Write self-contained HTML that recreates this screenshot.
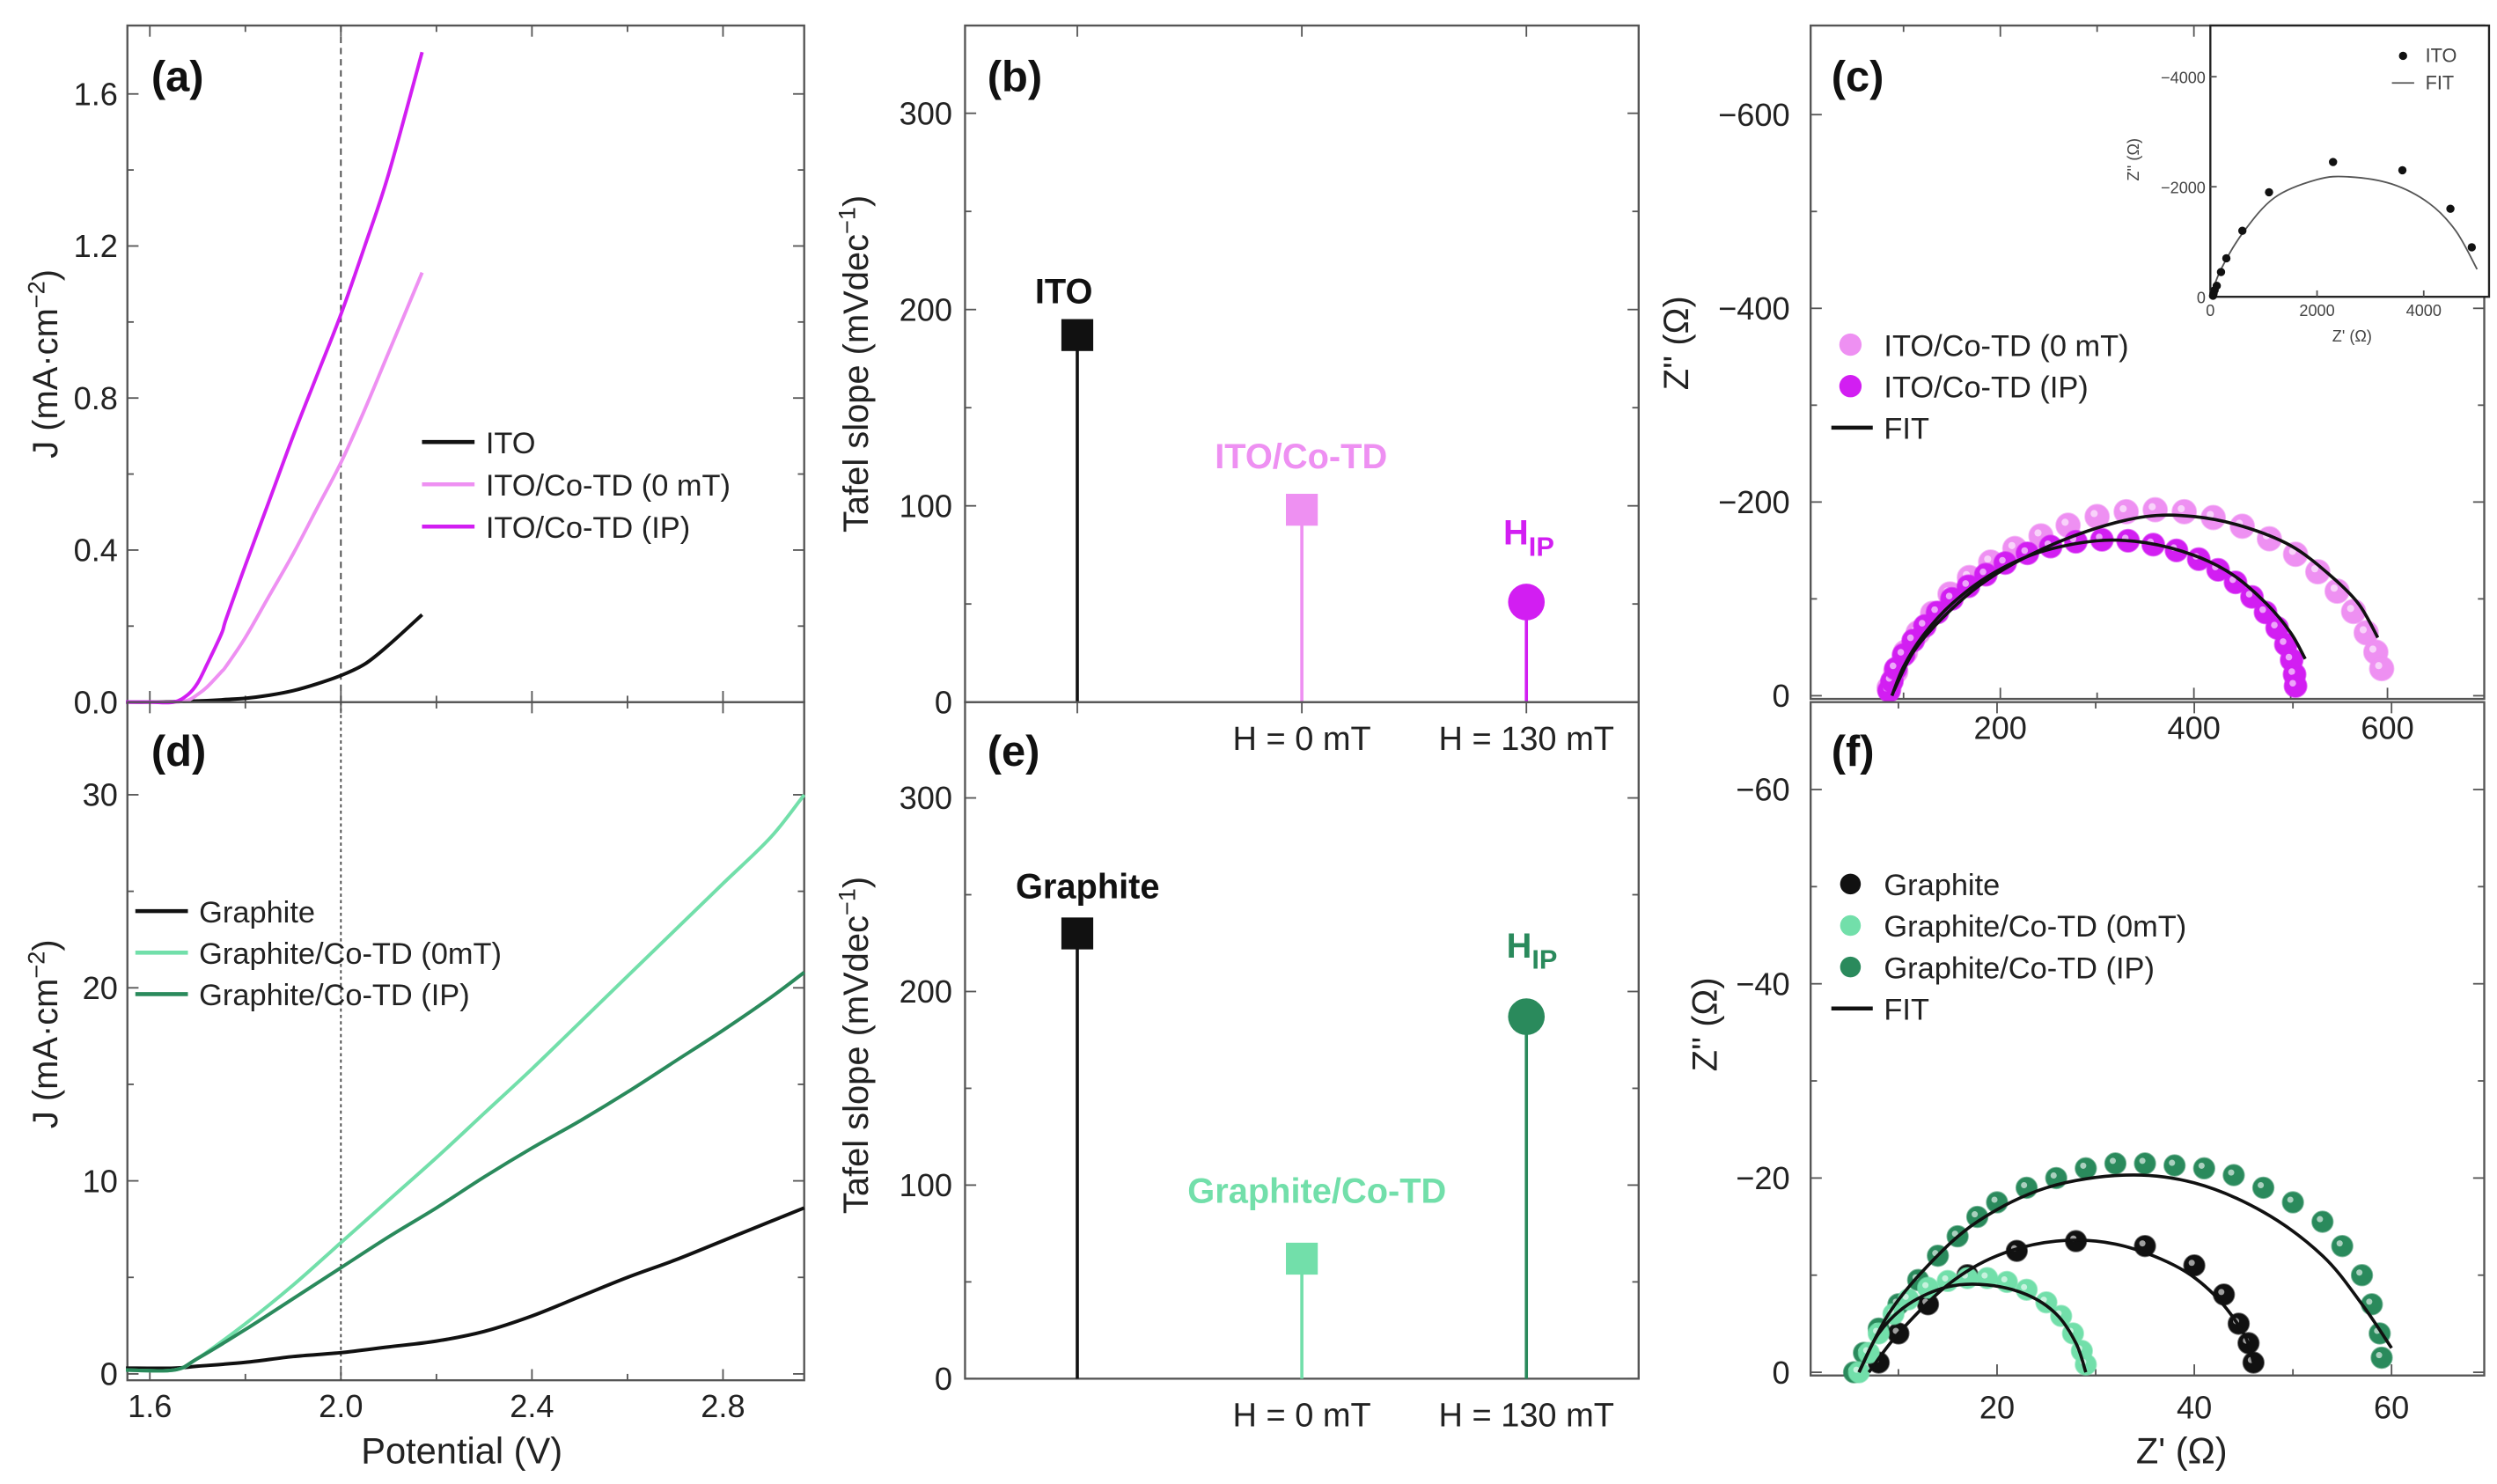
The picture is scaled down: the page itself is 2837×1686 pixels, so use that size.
<!DOCTYPE html>
<html><head><meta charset="utf-8"><style>
html,body{margin:0;padding:0;background:#fff;}
svg{display:block;font-family:"Liberation Sans",Arial,sans-serif;}
</style></head><body>
<svg id="fig" width="2837" height="1686" viewBox="0 0 1568 930" preserveAspectRatio="none" xmlns="http://www.w3.org/2000/svg"></svg>
<script>
// ---------- data ----------
const aV = [1.55,1.60,1.65,1.68,1.70,1.72,1.75,1.76,1.80,1.85,1.90,1.95,2.00,2.05,2.10,2.17];
const aITO = [0,0,0.001,0.002,0.003,0.004,0.006,0.007,0.010,0.018,0.030,0.048,0.070,0.100,0.150,0.230];
const aCo0 = [0,0,0,0.005,0.020,0.040,0.080,0.095,0.170,0.280,0.390,0.510,0.630,0.770,0.920,1.130];
const aCoIP = [0,0,0,0.020,0.050,0.100,0.180,0.220,0.360,0.530,0.700,0.860,1.020,1.200,1.390,1.710];
const dV = [1.55,1.65,1.70,1.80,1.90,2.00,2.10,2.20,2.30,2.40,2.50,2.60,2.70,2.80,2.90,2.97];
const dG = [0.3,0.3,0.4,0.6,0.9,1.1,1.4,1.7,2.2,3.0,4.0,5.0,5.9,6.9,7.9,8.6];
const dCo0 = [0.2,0.2,0.8,2.6,4.6,6.8,9.0,11.2,13.5,15.8,18.2,20.6,23.0,25.4,27.8,30.0];
const dCoIP = [0.2,0.2,0.8,2.3,3.9,5.5,7.1,8.6,10.2,11.7,13.1,14.6,16.2,17.8,19.5,20.8];
const bVals = [187,98,51];
const eVals = [230,62,187];
const cIPx = [85,88,92,100,110,122,135,150,167,185,205,228,252,278,305,332,358,382,405,425,443,460,474,486,495,501,504,505];
const cIPy = [5,15,28,42,57,72,86,100,113,125,137,147,154,159,161,160,156,150,141,130,117,102,86,70,53,37,22,10];
const c0x = [85,92,102,115,130,148,168,190,215,242,270,300,330,360,390,420,450,478,505,528,548,565,578,588,594];
const c0y = [8,25,45,65,85,105,122,138,152,165,176,185,190,192,190,184,175,162,146,128,108,87,65,45,28];
const cFitIPx = [88,100,120,150,190,240,300,350,400,440,475,500,515];
const cFitIPy = [0,30,62,95,125,148,160,158,145,125,95,65,38];
const cFit0x = [90,110,140,180,230,290,350,400,450,500,540,570,590];
const cFit0y = [5,45,80,115,145,170,185,185,175,155,125,95,60];
const inX = [50,60,80,120,200,300,600,1100,2300,3600,4500,4900];
const inY = [20,60,120,200,450,700,1200,1900,2450,2300,1600,900];
const inFitX = [0,200,600,1200,2000,2600,3400,4100,4600,5000];
const inFitY = [0,500,1150,1800,2130,2180,2050,1700,1200,500];
const fGx = [8,10,13,17,22,28,35,40,43,44.5,45.5,46];
const fGy = [1,4,7,10,12.5,13.5,13,11,8,5,3,1];
const f0x = [6,7,8,9.5,11,13,15,17,19,21,23,25,26.5,27.7,28.6,29];
const f0y = [0,2,4,6,7.5,8.7,9.4,9.7,9.7,9.3,8.5,7.2,5.8,4,2.2,0.8];
const fIPx = [5.5,6.5,8,10,12,14,16,18,20,23,26,29,32,35,38,41,44,47,50,53,55,57,58,58.8,59];
const fIPy = [0,2,4.5,7,9.5,12,14,16,17.5,19,20,21,21.5,21.5,21.3,21,20.3,19,17.5,15.5,13,10,7,4,1.5];
const fFitGx = [7,10,15,20,26,32,38,42,45,46];
const fFitGy = [0,4,9,12,13.5,13.2,11,8,4,1];
const fFit0x = [6,8,11,15,19,23,26,28,29];
const fFit0y = [0,4,7,8.8,9,8,6,3,0];
const fFitIPx = [6,9,13,18,25,33,40,47,53,57,60];
const fFitIPy = [0,6,11,15.5,19,20.3,19.5,16.5,12,7,2.5];

const PINK='#ee90f2', MAG='#d21ef2', LG='#72dfaa', DG='#2a8a5c';
const svg=document.getElementById('fig');
const NS='http://www.w3.org/2000/svg';
function el(tag,attrs,parent){const e=document.createElementNS(NS,tag);for(const k in attrs)e.setAttribute(k,attrs[k]);(parent||svg).appendChild(e);return e;}
function txt(s,x,y,opt,parent){const t=el('text',Object.assign({x:x,y:y,'font-size':19,fill:'#222'},opt||{}),parent);t.textContent=s;return t;}
function lin(d0,d1,r0,r1){return v=>r0+(v-d0)/(d1-d0)*(r1-r0);}

function frame(name,x0,x1,y0,y1){
  const g=el('g',{});
  
  
  el('rect',{x:x0,y:y0,width:x1-x0,height:y1-y0,fill:'none',stroke:'#555','stroke-width':1.3},g);
  return g;
}
function yTicks(g,Y,x0,x1,ticks,minor,labels,lx){
  minor.forEach(v=>{el('line',{x1:x0,x2:x0+4,y1:Y(v),y2:Y(v),stroke:'#555'},g);el('line',{x1:x1,x2:x1-4,y1:Y(v),y2:Y(v),stroke:'#555'},g);});
  ticks.forEach((v,i)=>{el('line',{x1:x0,x2:x0+7,y1:Y(v),y2:Y(v),stroke:'#555'},g);el('line',{x1:x1,x2:x1-7,y1:Y(v),y2:Y(v),stroke:'#555'},g);
    if(labels){const t=txt(labels[i],lx,Y(v)+7,{'text-anchor':'end','font-size':20},g);}});
}
function xTicks(g,X,y0,y1,ticks,minor,labels,ly){
  minor.forEach(v=>{el('line',{x1:X(v),x2:X(v),y1:y1,y2:y1-4,stroke:'#555'},g);el('line',{x1:X(v),x2:X(v),y1:y0,y2:y0+4,stroke:'#555'},g);});
  ticks.forEach((v,i)=>{el('line',{x1:X(v),x2:X(v),y1:y1,y2:y1-7,stroke:'#555'},g);el('line',{x1:X(v),x2:X(v),y1:y0,y2:y0+7,stroke:'#555'},g);
    if(labels){const t=txt(labels[i],X(v),ly,{'text-anchor':'middle','font-size':20},g);}});
}
function poly(g,xs,ys,X,Y,color,w,name){
  const P=xs.map((v,i)=>[X(v),Y(ys[i])]);
  let d='M'+P[0][0]+','+P[0][1];
  for(let i=0;i<P.length-1;i++){
    const p0=P[Math.max(0,i-1)],p1=P[i],p2=P[i+1],p3=P[Math.min(P.length-1,i+2)];
    const c1=[p1[0]+(p2[0]-p0[0])/6,p1[1]+(p2[1]-p0[1])/6];
    const c2=[p2[0]-(p3[0]-p1[0])/6,p2[1]-(p3[1]-p1[1])/6];
    d+=' C'+c1[0]+','+c1[1]+' '+c2[0]+','+c2[1]+' '+p2[0]+','+p2[1];
  }
  const p=el('path',{d:d,fill:'none',stroke:color,'stroke-width':w,'stroke-linejoin':'round'},g);
  
  
}
function dots(g,xs,ys,X,Y,color,r,name){
  xs.forEach((v,i)=>{
    const c=el('circle',{cx:X(v),cy:Y(ys[i]),r:r,fill:color,stroke:color,'stroke-opacity':0.6},g);
    
    
    el('circle',{cx:X(v)-r*0.25,cy:Y(ys[i])-r*0.25,r:r*0.3,fill:'#fff','fill-opacity':0.6},g);
  });
}
function rotLabel(s,x,y,g){
  const t=el('text',{x:0,y:0,'font-size':22,fill:'#222','text-anchor':'middle',transform:`translate(${x},${y}) rotate(-90)`},g);
  
  
  t.innerHTML=s;
}
function panelLbl(s,x,y){const t=txt(s,x,y,{'font-size':27,'font-weight':'bold',fill:'#111'});}

// ---------- panel a ----------
{const g=frame('panel-a',80,505,16,440);
 const X=lin(1.553,2.97,80,505),Y=lin(0,1.78,440,16);
 yTicks(g,Y,80,505,[0,0.4,0.8,1.2,1.6],[0.2,0.6,1.0,1.4],['0.0','0.4','0.8','1.2','1.6'],74);
 xTicks(g,X,16,440,[1.6,2.0,2.4,2.8],[1.8,2.2,2.6],null,0);
 el('line',{x1:X(2.0),x2:X(2.0),y1:16,y2:440,stroke:'#444','stroke-dasharray':'4,3','stroke-width':1},g);
 poly(g,aV,aITO,X,Y,'#111',2.2,'line-ito');
 poly(g,aV,aCo0,X,Y,PINK,2.2,'line-ito-cotd-0mt');
 poly(g,aV,aCoIP,X,Y,MAG,2.2,'line-ito-cotd-ip');
 rotLabel('J (mA·cm<tspan dy="-8" font-size="15">−2</tspan><tspan dy="8">)</tspan>',36,228,g);
 const L=[['ITO','#111'],['ITO/Co-TD (0 mT)',PINK],['ITO/Co-TD (IP)',MAG]];
 L.forEach((l,i)=>{const y=277+i*26.5;const lg=el('g',{},g);
   el('line',{x1:265,x2:298,y1:y,y2:y,stroke:l[1],'stroke-width':2.5},lg);txt(l[0],305,y+7,{},lg);});
}
panelLbl('(a)',95,57);
// ---------- panel d ----------
{const g=frame('panel-d',80,505,440,865);
 const X=lin(1.553,2.97,80,505),Y=lin(-0.33,34.8,865,440);
 yTicks(g,Y,80,505,[0,10,20,30],[5,15,25],['0','10','20','30'],74);
 xTicks(g,X,440,865,[1.6,2.0,2.4,2.8],[1.8,2.2,2.6],['1.6','2.0','2.4','2.8'],888);
 el('line',{x1:X(2.0),x2:X(2.0),y1:440,y2:865,stroke:'#444','stroke-dasharray':'2,2','stroke-width':1},g);
 poly(g,dV,dG,X,Y,'#111',2.2,'line-graphite');
 poly(g,dV,dCo0,X,Y,LG,2.2,'line-graphite-cotd-0mt');
 poly(g,dV,dCoIP,X,Y,DG,2.2,'line-graphite-cotd-ip');
 rotLabel('J (mA·cm<tspan dy="-8" font-size="15">−2</tspan><tspan dy="8">)</tspan>',36,648,g);
 const t=txt('Potential (V)',290,917,{'font-size':23,'text-anchor':'middle'},g);
 const L=[['Graphite','#111'],['Graphite/Co-TD (0mT)',LG],['Graphite/Co-TD (IP)',DG]];
 L.forEach((l,i)=>{const y=571+i*26;const lg=el('g',{},g);
   el('line',{x1:85,x2:118,y1:y,y2:y,stroke:l[1],'stroke-width':2.5},lg);txt(l[0],125,y+7,{},lg);});
}
panelLbl('(d)',95,480);
// ---------- panels b, e ----------
function tafel(name,top,bot,vals,cols,shapes,labels,lblPos,ymax,axisCenter){
  const g=frame(name,606,1029,top,bot);
  const X=lin(-0.5,2.5,606,1029),Y=lin(0,ymax,bot,top);
  yTicks(g,Y,606,1029,[0,100,200,300],[50,150,250],['0','100','200','300'],598);
  xTicks(g,X,top,bot,[0,1,2],[],null,0);
  vals.forEach((v,i)=>{
    const s=el('line',{x1:X(i),x2:X(i),y1:Y(0),y2:Y(v),stroke:cols[i],'stroke-width':2},g);
    
    let m;
    if(shapes[i]==='s') m=el('rect',{x:X(i)-10,y:Y(v)-10,width:20,height:20,fill:cols[i]},g);
    else m=el('circle',{cx:X(i),cy:Y(v),r:11.5,fill:cols[i]},g);
    
    const lp=lblPos[i];
    const t=el('text',{x:lp[0],y:Y(v)+lp[1],'font-size':22,'font-weight':'bold',fill:cols[i],'text-anchor':'middle'},g);
    
    t.innerHTML=labels[i];
  });
  rotLabel('Tafel slope (mVdec<tspan dy="-8" font-size="15">−1</tspan><tspan dy="8">)</tspan>',545,axisCenter,g);
  return X;
}
const HIP='H<tspan dy="7" font-size="17">IP</tspan>';
{const X=tafel('panel-b',16,440,bVals,['#111',PINK,MAG],['s','s','c'],['ITO','ITO/Co-TD',HIP],[[668,-20],[817,-26],[960,-36]],344.7,228);
 ['H = 0 mT','H = 130 mT'].forEach((s,i)=>{const t=txt(s,X(i+1),470,{'font-size':21,'text-anchor':'middle'});});}
panelLbl('(b)',620,57);
{const X=tafel('panel-e',440,864,eVals,['#111',LG,DG],['s','s','c'],['Graphite','Graphite/Co-TD',HIP],[[683,-22],[827,-35],[962,-37]],349.5,655);
 ['H = 0 mT','H = 130 mT'].forEach((s,i)=>{const t=txt(s,X(i+1),894,{'font-size':21,'text-anchor':'middle'});});}
panelLbl('(e)',620,480);
// ---------- panel c ----------
{const g=frame('panel-c',1137,1560,16,438);
 const X=lin(4,700,1137,1560),Y=lin(-3.3,692,438,16);
 yTicks(g,Y,1137,1560,[0,200,400,600],[100,300,500],['0','−200','−400','−600'],1124);
 xTicks(g,X,16,438,[200,400,600],[100,300,500],['200','400','600'],463);
 dots(g,c0x,c0y,X,Y,PINK,7.5,'point-ito-cotd-0mt');
 dots(g,cIPx,cIPy,X,Y,MAG,7,'point-ito-cotd-ip');
 poly(g,cFit0x,cFit0y,X,Y,'#111',2,'fit-ito-cotd-0mt');
 poly(g,cFitIPx,cFitIPy,X,Y,'#111',2,'fit-ito-cotd-ip');
 rotLabel('Z\'\' (Ω)',1060,215,g);
 [['ITO/Co-TD (0 mT)',PINK],['ITO/Co-TD (IP)',MAG]].forEach((l,i)=>{const y=216+i*26;const lg=el('g',{},g);
   el('circle',{cx:1162,cy:y,r:7,fill:l[1]},lg);txt(l[0],1183,y+7,{},lg);});
 {const lg=el('g',{},g);
  el('line',{x1:1150,x2:1176,y1:268,y2:268,stroke:'#111','stroke-width':2.5},lg);txt('FIT',1183,275,{},lg);}
 // inset
 const ig=el('g',{},g);
 el('rect',{x:1388,y:16,width:175,height:170,fill:'#fff',stroke:'#222','stroke-width':1.3},ig);
 const IX=lin(0,5224,1388,1563),IY=lin(0,4930,186,16);
 [0,2000,4000].forEach(v=>{el('line',{x1:1388,x2:1392,y1:IY(v),y2:IY(v),stroke:'#555'},ig);el('line',{x1:IX(v),x2:IX(v),y1:186,y2:182,stroke:'#555'},ig);
   txt(v===0?'0':'−'+v,1385,IY(v)+4,{'font-size':10,'text-anchor':'end',fill:'#444'},ig);txt(String(v),IX(v),198,{'font-size':10,'text-anchor':'middle',fill:'#444'},ig);});
 txt('Z\' (Ω)',1477,214,{'font-size':10,'text-anchor':'middle',fill:'#444'},ig);
 el('text',{x:0,y:0,'font-size':10,fill:'#444','text-anchor':'middle',transform:'translate(1343,100) rotate(-90)'},ig).textContent='Z\'\' (Ω)';
 poly(ig,inFitX,inFitY,IX,IY,'#555',1,'inset-fit');
 inX.forEach((v,i)=>{const c=el('circle',{cx:IX(v),cy:IY(inY[i]),r:2.6,fill:'#111'},ig);});
 el('circle',{cx:1509,cy:35,r:2.6,fill:'#111'},ig);txt('ITO',1523,39,{'font-size':12,fill:'#444'},ig);
 el('line',{x1:1502,x2:1516,y1:52,y2:52,stroke:'#555'},ig);txt('FIT',1523,56,{'font-size':12,fill:'#444'},ig);
}
panelLbl('(c)',1150,57);
// ---------- panel f ----------
{const g=frame('panel-f',1137,1560,440,862);
 const X=lin(1.1,69.4,1137,1560),Y=lin(-0.33,69,862,440);
 yTicks(g,Y,1137,1560,[0,20,40,60],[10,30,50],['0','−20','−40','−60'],1124);
 xTicks(g,X,440,862,[20,40,60],[10,30,50],['20','40','60'],889);
 dots(g,fIPx,fIPy,X,Y,DG,6.5,'point-graphite-cotd-ip');
 dots(g,fGx,fGy,X,Y,'#111',6.5,'point-graphite');
 dots(g,f0x,f0y,X,Y,LG,6.5,'point-graphite-cotd-0mt');
 poly(g,fFitIPx,fFitIPy,X,Y,'#111',2,'fit-graphite-cotd-ip');
 poly(g,fFitGx,fFitGy,X,Y,'#111',2,'fit-graphite');
 poly(g,fFit0x,fFit0y,X,Y,'#111',2,'fit-graphite-cotd-0mt');
 rotLabel('Z\'\' (Ω)',1078,642,g);
 const t=txt('Z\' (Ω)',1370,917,{'font-size':23,'text-anchor':'middle'},g);
 [['Graphite','#111'],['Graphite/Co-TD (0mT)',LG],['Graphite/Co-TD (IP)',DG]].forEach((l,i)=>{const y=554+i*26;const lg=el('g',{},g);
   el('circle',{cx:1162,cy:y,r:6.5,fill:l[1]},lg);txt(l[0],1183,y+7,{},lg);});
 {const lg=el('g',{},g);
  el('line',{x1:1150,x2:1176,y1:632,y2:632,stroke:'#111','stroke-width':2.5},lg);txt('FIT',1183,639,{},lg);}
}
panelLbl('(f)',1150,480);
</script>
</body></html>
